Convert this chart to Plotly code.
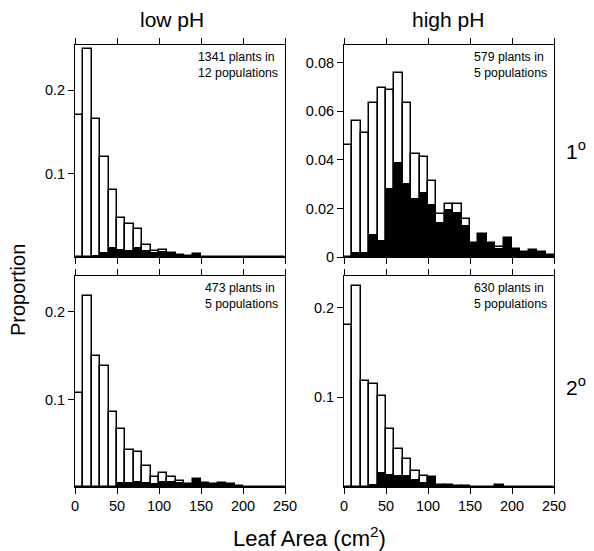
import plotly.graph_objects as go

# ---- data ----
bin_centers = [5 + 10 * i for i in range(25)]

low1_total = [0.170, 0.249, 0.165, 0.120, 0.080, 0.047, 0.040, 0.033, 0.0145, 0.0068,
              0.0084, 0.0048, 0.0024, 0.0012, 0.0032, 0, 0, 0, 0, 0, 0, 0, 0, 0, 0]
low1_black = [0, 0, 0.001, 0.0044, 0.011, 0.0084, 0.0068, 0.0104, 0.0076, 0.0044,
              0.0056, 0.0048, 0.0024, 0.0012, 0.0032, 0, 0, 0, 0, 0, 0, 0, 0, 0, 0]

high1_total = [0.046, 0.056, 0.051, 0.0635, 0.0697, 0.0686, 0.0759, 0.0635, 0.0423, 0.0411,
               0.0312, 0.0177, 0.0217, 0.0217, 0.0155, 0.0056, 0.0094, 0.0056, 0.0042, 0.008,
               0.0032, 0.0021, 0.003, 0.002, 0.0008]
high1_black = [0, 0.0016, 0.0016, 0.009, 0.0066, 0.0278, 0.0388, 0.030, 0.024, 0.0264,
               0.0216, 0.0141, 0.0194, 0.018, 0.0129, 0.0056, 0.0094, 0.0056, 0.0032, 0.008,
               0.0032, 0.0021, 0.003, 0.002, 0.0008]

low2_total = [0.1076, 0.218, 0.150, 0.138, 0.086, 0.066, 0.042, 0.040, 0.024, 0.0118,
              0.0163, 0.0118, 0.0068, 0.0034, 0.0087, 0.005, 0.003, 0.005, 0.003, 0.001,
              0, 0, 0, 0, 0]
low2_black = [0, 0, 0, 0, 0, 0.005, 0.005, 0.006, 0.005, 0.004,
              0.006, 0.006, 0.005, 0.0034, 0.0087, 0.005, 0.003, 0.005, 0.003, 0.001,
              0, 0, 0, 0, 0]

high2_total = [0.180, 0.2237, 0.1185, 0.1144, 0.1015, 0.0644, 0.0426, 0.031, 0.0174, 0.0126,
               0.011, 0.002, 0.002, 0.0015, 0.001, 0.0005, 0.0005, 0.0005, 0.002, 0.0005,
               0.0005, 0.0005, 0.0005, 0.0005, 0.0005]
high2_black = [0, 0, 0, 0.002, 0.0156, 0.0137, 0.0126, 0.0126, 0.0081, 0.0044,
               0.011, 0.002, 0.002, 0.0015, 0.001, 0.0005, 0.0005, 0.0005, 0.002, 0.0005,
               0.0005, 0.0005, 0.0005, 0.0005, 0.0005]

panel_notes = ["1341 plants in<br>12 populations", "579 plants in<br>5 populations",
               "473 plants in<br>5 populations", "630 plants in<br>5 populations"]
col_titles = ["low pH", "high pH"]
row_titles = ["1<sup>o</sup>", "2<sup>o</sup>"]
x_ticks = [0, 50, 100, 150, 200, 250]
y_ticks = [[0.1, 0.2], [0, 0.02, 0.04, 0.06, 0.08], [0.1, 0.2], [0.1, 0.2]]
y_ranges = [[0, 0.254], [0, 0.0873], [0, 0.241], [0, 0.235]]

# page body has an 8px margin: draw in a 586x543 figure offset by 8px
OFF = 8
W, H = 594 - OFF, 551 - OFF
FONT = "Liberation Sans, Arial, sans-serif"


def px(x):
    return (x - OFF) / W


def py(y):
    return 1 - (y - OFF) / H


# panel pixel boxes in window coordinates (left, right, top, bottom)
boxes = [(75, 285, 45, 257), (344, 554, 45, 257), (75, 285, 276, 487), (344, 554, 276, 487)]

series = [(low1_total, low1_black), (high1_total, high1_black),
          (low2_total, low2_black), (high2_total, high2_black)]

fig = go.Figure()
for i, (tot, blk) in enumerate(series):
    xa = "x" if i == 0 else f"x{i+1}"
    ya = "y" if i == 0 else f"y{i+1}"
    fig.add_trace(go.Bar(x=bin_centers, y=tot, width=10, xaxis=xa, yaxis=ya,
                         marker=dict(color="white", line=dict(color="black", width=1.5)),
                         showlegend=False))
    fig.add_trace(go.Bar(x=bin_centers, y=blk, width=10, xaxis=xa, yaxis=ya,
                         marker=dict(color="black", line=dict(color="black", width=1)),
                         showlegend=False))

layout = dict(width=W, height=H, margin=dict(l=0, r=0, t=0, b=0),
              paper_bgcolor="white", plot_bgcolor="white", barmode="overlay",
              bargap=0, font=dict(family=FONT, color="black"))

for i, (l, r, t, b) in enumerate(boxes):
    xk = "xaxis" if i == 0 else f"xaxis{i+1}"
    yk = "yaxis" if i == 0 else f"yaxis{i+1}"
    xname = "x" if i == 0 else f"x{i+1}"
    yname = "y" if i == 0 else f"y{i+1}"
    layout[xk] = dict(domain=[px(l), px(r)], range=[0, 250], anchor=yname,
                      tickvals=x_ticks, ticks="outside", ticklen=6, tickwidth=1,
                      tickcolor="black", showline=True, linecolor="black", linewidth=1,
                      mirror="ticks", showgrid=False, zeroline=False,
                      showticklabels=(i >= 2), tickfont=dict(size=14.5), automargin=False)
    layout[yk] = dict(domain=[py(b), py(t)], range=y_ranges[i], anchor=xname,
                      tickvals=y_ticks[i], ticks="outside", ticklen=6, tickwidth=1,
                      tickcolor="black", showline=True, linecolor="black", linewidth=1,
                      mirror=True, showgrid=False, zeroline=False,
                      tickfont=dict(size=14.5), automargin=False)

annotations = []
for i, (l, r, t, b) in enumerate(boxes):
    annotations.append(dict(text=panel_notes[i], xref="paper", yref="paper",
                            x=px(r - 5), y=py(t + 3), xanchor="right", yanchor="top",
                            align="left", showarrow=False, font=dict(size=12.3)))
title_x = [172, 448]
for j, txt in enumerate(col_titles):
    annotations.append(dict(text=txt, xref="paper", yref="paper", x=px(title_x[j]),
                            y=py(20), xanchor="center", yanchor="middle",
                            showarrow=False, font=dict(size=21)))
for k, txt in enumerate(row_titles):
    yc = [150, 386][k]
    annotations.append(dict(text=txt, xref="paper", yref="paper", x=px(576),
                            y=py(yc), xanchor="center", yanchor="middle",
                            showarrow=False, font=dict(size=21)))
annotations.append(dict(text="Proportion", xref="paper", yref="paper", x=px(18),
                        y=py(290), xanchor="center", yanchor="middle", textangle=-90,
                        showarrow=False, font=dict(size=20)))
annotations.append(dict(text="Leaf Area (cm<sup>2</sup>)", xref="paper", yref="paper",
                        x=px(309), y=py(537), xanchor="center", yanchor="middle",
                        showarrow=False, font=dict(size=22)))
layout["annotations"] = annotations

fig.update_layout(**layout)
fig.write_html("out.html")
